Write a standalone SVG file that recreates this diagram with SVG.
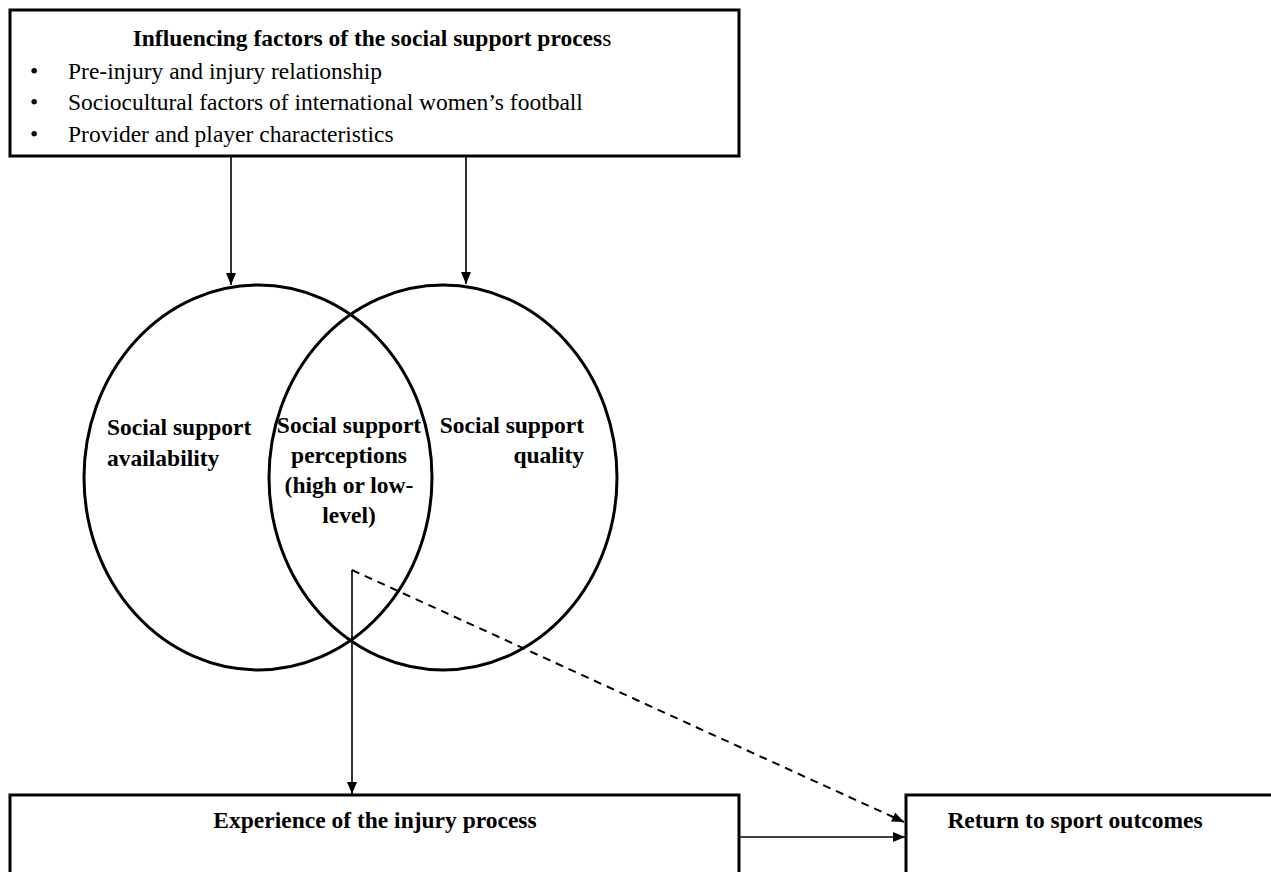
<svg xmlns="http://www.w3.org/2000/svg" width="1271" height="872" viewBox="0 0 1271 872">
<style>
.box{fill:#fff;stroke:#000;stroke-width:3}
.circ{fill:none;stroke:#000;stroke-width:3}
.t{font-family:"Liberation Serif","Times New Roman",serif;font-size:23.5px;fill:#000}
.b{font-weight:bold}
.conn{fill:none;stroke:#000;stroke-width:1.6}
.dash{stroke-dasharray:8,6;stroke-width:2}
</style>
<defs>
<marker id="ah" markerUnits="userSpaceOnUse" markerWidth="12" markerHeight="10" refX="12" refY="5" orient="auto">
<path d="M0,0 L12,5 L0,10 z" fill="#000"/>
</marker>
</defs>
<rect width="1271" height="872" fill="#fff"/>
<g id="influencing-factors">
<rect class="box" x="10" y="10" width="729" height="146"/>
<text class="t b" x="372" y="46" text-anchor="middle">Influencing factors of the social support proces<tspan font-weight="normal">s</tspan></text>
<text class="t" x="30" y="79">•</text>
<text class="t" x="68" y="79">Pre-injury and injury relationship</text>
<text class="t" x="30" y="110">•</text>
<text class="t" x="68" y="110">Sociocultural factors of international women’s football</text>
<text class="t" x="30" y="142">•</text>
<text class="t" x="68" y="142">Provider and player characteristics</text>
</g>
<g id="availability">
<ellipse class="circ" cx="258" cy="477.5" rx="174" ry="192.5"/>
<text class="t b" x="107" y="435">Social support</text>
<text class="t b" x="107" y="466">availability</text>
</g>
<g id="quality">
<ellipse class="circ" cx="443" cy="477.5" rx="174" ry="192.5"/>
<text class="t b" x="584" y="433" text-anchor="end">Social support</text>
<text class="t b" x="584" y="463" text-anchor="end">quality</text>
</g>
<g id="perceptions">
<text class="t b" x="349" y="433" text-anchor="middle">Social support</text>
<text class="t b" x="349" y="463" text-anchor="middle">perceptions</text>
<text class="t b" x="349" y="493" text-anchor="middle">(high or low-</text>
<text class="t b" x="349" y="523" text-anchor="middle">level)</text>
</g>
<g id="experience">
<rect class="box" x="10" y="795" width="729" height="120"/>
<text class="t b" x="375" y="828" text-anchor="middle">Experience of the injury process</text>
</g>
<g id="return-to-sport">
<rect class="box" x="906" y="795" width="420" height="120"/>
<text class="t b" x="1075" y="828" text-anchor="middle">Return to sport outcomes</text>
</g>
<g id="connectors">
<line class="conn" x1="231" y1="157" x2="231" y2="285" marker-end="url(#ah)"/>
<line class="conn" x1="466" y1="157" x2="466" y2="284" marker-end="url(#ah)"/>
<line class="conn" x1="352" y1="570" x2="352" y2="794" marker-end="url(#ah)"/>
<line class="conn dash" x1="352" y1="570" x2="904" y2="822" marker-end="url(#ah)"/>
<line class="conn" x1="740" y1="837" x2="905" y2="837" marker-end="url(#ah)"/>
</g>
</svg>
